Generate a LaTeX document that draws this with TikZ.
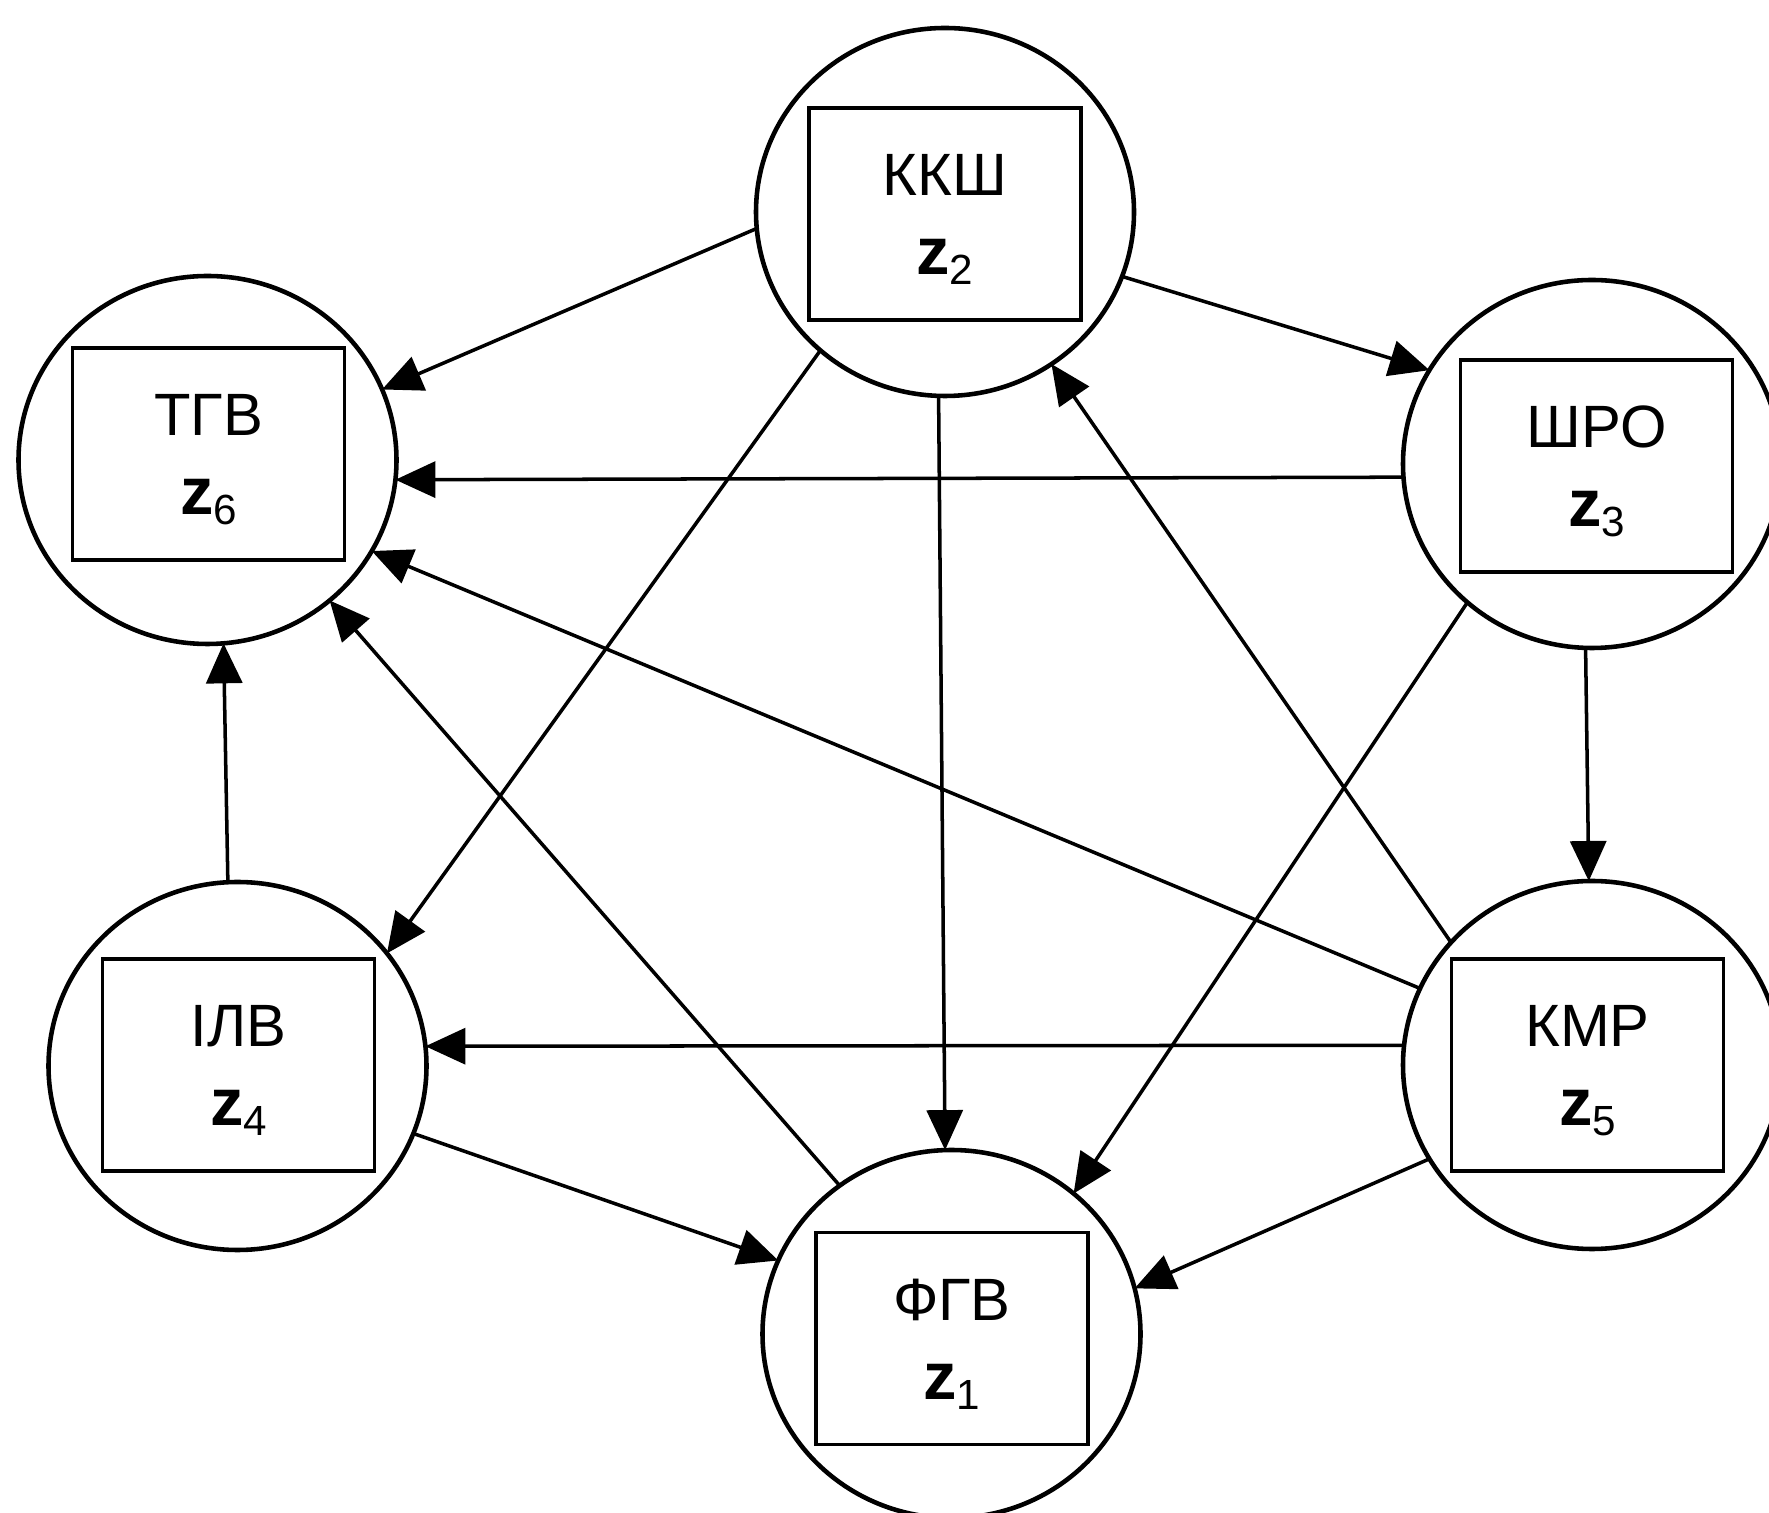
\documentclass[tikz,border=0pt]{standalone}
\usepackage{fontspec}
\setmainfont{Liberation Sans}
\usetikzlibrary{shapes.geometric,arrows.meta}
\tikzset{
  circ/.style={ellipse, draw, line width=1.3pt, minimum width=3.78cm, minimum height=3.68cm, inner sep=0pt, outer sep=0pt},
  box/.style={rectangle, draw, line width=1.1pt, minimum width=2.72cm, minimum height=2.12cm, inner sep=0pt},
  nm/.style={anchor=base, inner sep=0pt, font=\fontsize{17}{20}\selectfont},
  zl/.style={anchor=base, inner sep=0pt},
  arr/.style={line width=1pt, -{Triangle[length=0.4cm,width=0.36cm]}}
}
\newcommand{\zlab}[1]{\fontsize{19}{22}\selectfont\bfseries z\raisebox{-0.1cm}{\fontsize{12}{14}\selectfont\mdseries #1}}
\begin{document}
\begin{tikzpicture}
\useasboundingbox (0,0) rectangle (17.69,15.12);
\clip (0,0) rectangle (17.69,15.12);
% circles
\node[circ] (z2) at (9.45,13.00) {};
\node[circ] (z6) at (2.075,10.52) {};
\node[circ] (z3) at (15.92,10.48) {};
\node[circ] (z4) at (2.375,4.46) {};
\node[circ] (z5) at (15.92,4.47) {};
\node[circ] (z1) at (9.515,1.78) {};
% boxes
\node[box] (r2) at (9.45,12.98) {};
\node[box] (r6) at (2.085,10.58) {};
\node[box] (r3) at (15.965,10.46) {};
\node[box] (r4) at (2.385,4.47) {};
\node[box] (r5) at (15.875,4.47) {};
\node[box] (r1) at (9.52,1.735) {};
% labels
\path (r2.center) ++(0,0.18) node[nm] (n2) {ККШ};
\path (r2.center) ++(0,-0.61) node[zl] (l2) {\zlab{2}};
\path (r6.center) ++(0,0.18) node[nm] (n6) {ТГВ};
\path (r6.center) ++(0,-0.61) node[zl] (l6) {\zlab{6}};
\path (r3.center) ++(0,0.18) node[nm] (n3) {ШРО};
\path (r3.center) ++(0,-0.61) node[zl] (l3) {\zlab{3}};
\path (r4.center) ++(0,0.18) node[nm] (n4) {ІЛВ};
\path (r4.center) ++(0,-0.61) node[zl] (l4) {\zlab{4}};
\path (r5.center) ++(0,0.18) node[nm] (n5) {КМР};
\path (r5.center) ++(0,-0.61) node[zl] (l5) {\zlab{5}};
\path (r1.center) ++(0,0.18) node[nm] (n1) {ФГВ};
\path (r1.center) ++(0,-0.61) node[zl] (l1) {\zlab{1}};
% arrows
\draw[arr] (z2.185.3) -- (z6.22.3);
\draw[arr] (z2.340.8) -- (z3.150.6);
\draw[arr] (z2.228.5) -- (z4.37.1);
\draw[arr] (z2.268.5) -- (z1.92.6);
\draw[arr] (z3.184.2) -- (z6.354.6);
\draw[arr] (z3.228.7) -- (z1.49.8);
\draw[arr] (z3.268) -- (z5.91.5);
\draw[arr] (z5.139.5) -- (z2.305.3);
\draw[arr] (z5.156.8) -- (z6.331);
\draw[arr] (z5.174) -- (z4.6.3);
\draw[arr] (z5.210.4) -- (z1.14.5);
\draw[arr] (z1.127.5) -- (z6.311);
\draw[arr] (z4.93.5) -- (z6.275.6);
\draw[arr] (z4.339.6) -- (z1.157.5);
\end{tikzpicture}
\end{document}
